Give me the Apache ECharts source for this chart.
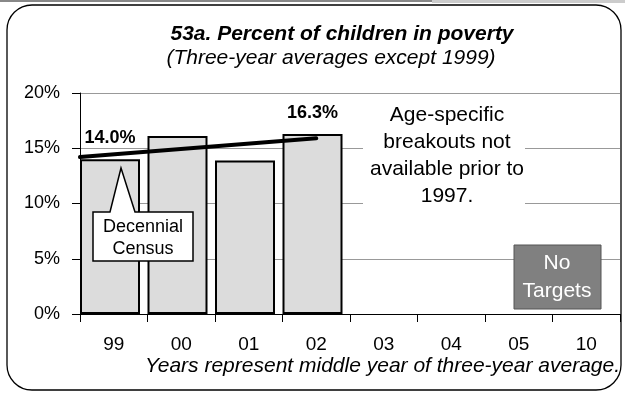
<!DOCTYPE html>
<html>
<head>
<meta charset="utf-8">
<script src="https://cdn.jsdelivr.net/npm/echarts@6/dist/echarts.min.js"></script>
<style>
  html, body { margin: 0; padding: 0; background: #fff; }
  #chart { width: 625px; height: 394px; }
</style>
</head>
<body>
<div id="chart"></div>
<script>
// 年份（三年平均的中间年）
var years = ['99', '00', '01', '02', '03', '04', '05', '10'];
var poverty = [14.0, 16.1, 13.9, 16.3, null, null, null, null];
var labelShown = [true, false, false, true];
// trend line: [category position, value]
var trendStart = [0, 14.2];
var trendEnd = [3.5, 15.9];
var yTicks = [0, 5, 10, 15, 20];

var font = 'Arial, "Liberation Sans", sans-serif';
var chart = echarts.init(document.getElementById('chart'));

var barData = poverty.map(function (v, i) {
  if (v === null) return null;
  return {
    value: v,
    label: {
      show: !!labelShown[i],
      position: 'top',
      distance: 12,
      formatter: function (p) { return p.value.toFixed(1) + '%'; },
      fontFamily: font, fontWeight: 'bold', fontSize: 18, color: '#000'
    }
  };
});

var option = {
  animation: false,
  grid: { left: 80, right: 5, top: 93, bottom: 80 },
  xAxis: [{
    type: 'category',
    data: years,
    axisLine: { lineStyle: { color: '#000', width: 1 } },
    axisTick: { show: true, length: 8, lineStyle: { color: '#000' } },
    axisLabel: { fontFamily: font, fontSize: 19, color: '#000', margin: 21 }
  }, {
    type: 'value',
    min: 0, max: 8,
    show: false
  }],
  yAxis: {
    type: 'value',
    min: yTicks[0], max: yTicks[yTicks.length - 1], interval: 5,
    axisLine: { show: true, lineStyle: { color: '#000', width: 1 } },
    axisTick: { show: true, length: 8, lineStyle: { color: '#000' } },
    axisLabel: { fontFamily: font, fontSize: 18, color: '#000', margin: 20,
      formatter: function (v) { return v + '%'; } },
    splitLine: { lineStyle: { color: '#999', width: 1 } }
  },
  series: [{
    type: 'bar',
    data: barData,
    barWidth: 60,
    barGap: '-87.5%',
    itemStyle: { color: '#dcdcdc', borderColor: '#000', borderWidth: 2 },
    z: 2
  }, {
    type: 'bar',
    data: [],
    barWidth: 60
  }, {
    type: 'line',
    xAxisIndex: 1,
    data: [trendStart, trendEnd],
    symbol: 'none',
    lineStyle: { color: '#000', width: 4, cap: 'round' },
    z: 5
  }],
  graphic: [
    { type: 'rect', shape: { x: 0, y: 0, width: 432, height: 2 }, style: { fill: '#888' } },
    { type: 'rect', shape: { x: 432, y: 0, width: 193, height: 3 }, style: { fill: '#ccc' } },
    { type: 'rect', shape: { x: 7, y: 5, width: 614, height: 385, r: 25 },
      style: { fill: 'none', stroke: '#000', lineWidth: 1.3 }, z: 100 },
    { type: 'text', x: 342, y: 34,
      style: { text: '53a. Percent of children in poverty', font: 'italic bold 21px ' + font,
        fill: '#000', textAlign: 'center', textVerticalAlign: 'middle' } },
    { type: 'text', x: 331, y: 58,
      style: { text: '(Three-year averages except 1999)', font: 'italic 21px ' + font,
        fill: '#000', textAlign: 'center', textVerticalAlign: 'middle' } },
    { type: 'rect', shape: { x: 363, y: 102, width: 162, height: 108 }, style: { fill: '#fff' }, z: 50 },
    { type: 'text', x: 447, y: 102, z: 51,
      style: { text: 'Age-specific\nbreakouts not\navailable prior to\n1997.', font: '21px ' + font,
        lineHeight: 27, fill: '#000', textAlign: 'center' } },
    { type: 'rect', shape: { x: 514, y: 245, width: 87, height: 64 }, z: 50,
      style: { fill: '#808080', stroke: '#555', lineWidth: 1 } },
    { type: 'text', x: 557, y: 277, z: 51,
      style: { text: 'No\nTargets', font: '21px ' + font, lineHeight: 28, fill: '#fff',
        textAlign: 'center', textVerticalAlign: 'middle' } },
    { type: 'polygon', z: 50,
      shape: { points: [[93, 212], [110, 212], [121, 168], [135, 212], [193, 212], [193, 261], [93, 261]] },
      style: { fill: '#fff', stroke: '#000', lineWidth: 1.5 } },
    { type: 'text', x: 143, y: 238, z: 51,
      style: { text: 'Decennial\nCensus', font: '18px ' + font, lineHeight: 22, fill: '#000',
        textAlign: 'center', textVerticalAlign: 'middle' } },
    { type: 'text', x: 620, y: 366,
      style: { text: 'Years represent middle year of three-year average.', font: 'italic 21px ' + font,
        fill: '#000', textAlign: 'right', textVerticalAlign: 'middle' } }
  ]
};
chart.setOption(option);
</script>
</body>
</html>
